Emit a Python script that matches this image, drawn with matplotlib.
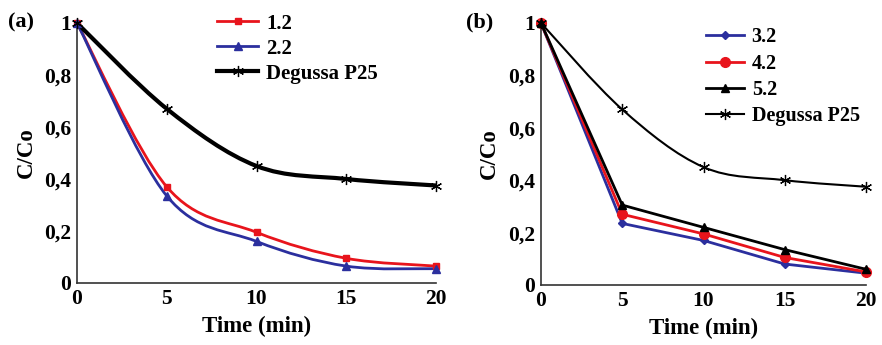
import numpy as np
import matplotlib
matplotlib.use("Agg")
import matplotlib.pyplot as plt
from matplotlib.path import Path
from matplotlib.patches import PathPatch
from matplotlib.lines import Line2D

time = [0, 5, 10, 15, 20]
a_12 = [1.0, 0.37, 0.195, 0.095, 0.065]
a_22 = [1.0, 0.335, 0.16, 0.065, 0.055]
p25 = [1.0, 0.67, 0.45, 0.40, 0.375]
b_32 = [1.0, 0.235, 0.17, 0.08, 0.045]
b_42 = [1.0, 0.27, 0.195, 0.105, 0.05]
b_52 = [1.0, 0.305, 0.22, 0.135, 0.06]
yticks = [0, 0.2, 0.4, 0.6, 0.8, 1]
ytick_labels = ["0", "0,2", "0,4", "0,6", "0,8", "1"]
xticks = [0, 5, 10, 15, 20]

plt.rcParams['font.family'] = ['Liberation Serif', 'DejaVu Serif']
plt.rcParams['font.weight'] = 'bold'

fig = plt.figure(figsize=(8.82, 3.45), dpi=100)
axa = fig.add_axes([77/882, 1-283/345, (436-77)/882, (283-23)/345])
axb = fig.add_axes([541/882, 1-285/345, (866-541)/882, (285-23)/345])


def smooth_path(ax, x, y, color, lw):
    # Excel-style smoothed line through the data points (Catmull-Rom -> cubic Bezier)
    x = np.asarray(x, float); y = np.asarray(y, float)
    n = len(x)
    verts = [(x[0], y[0])]
    codes = [Path.MOVETO]
    t = 1/6
    for i in range(n-1):
        x0, y0 = (x[i-1], y[i-1]) if i > 0 else (x[i], y[i])
        x3, y3 = (x[i+2], y[i+2]) if i+2 < n else (x[i+1], y[i+1])
        c1 = (x[i] + (x[i+1]-x0)*t, y[i] + (y[i+1]-y0)*t)
        c2 = (x[i+1] - (x3-x[i])*t, y[i+1] - (y3-y[i])*t)
        verts += [c1, c2, (x[i+1], y[i+1])]
        codes += [Path.CURVE4]*3
    ax.add_patch(PathPatch(Path(verts, codes), facecolor='none', edgecolor=color,
                           lw=lw, zorder=3, capstyle='round', joinstyle='round'))


star = (6, 2, 0)
red = '#e8141c'
blue = '#2b2f9e'

# Panel (a)
smooth_path(axa, time, a_12, red, 2.0)
smooth_path(axa, time, a_22, blue, 2.0)
smooth_path(axa, time, p25, 'black', 3.0)
axa.plot(time, a_12, ls='none', marker='s', ms=5, color=red, zorder=4, clip_on=False)
axa.plot(time, a_22, ls='none', marker='^', ms=6, color=blue, zorder=4, clip_on=False)
axa.plot(time, p25, ls='none', marker=star, ms=8, mew=0.9, color='black', zorder=4, clip_on=False)
ha = [Line2D([], [], color=red, lw=2, marker='s', ms=5),
      Line2D([], [], color=blue, lw=2, marker='^', ms=6),
      Line2D([], [], color='black', lw=3, marker=star, ms=8, mew=0.9)]
axa.legend(ha, ['1.2', '2.2', 'Degussa P25'], loc='upper left', bbox_to_anchor=(0.368, 1.068),
           frameon=False, fontsize=15, handlelength=1.95, handletextpad=0.4,
           labelspacing=0.24, borderaxespad=0)

# Panel (b)
smooth_path(axb, time, p25, 'black', 1.5)
axb.plot(time, b_32, color=blue, lw=2, marker='D', ms=4, zorder=3, clip_on=False)
axb.plot(time, b_42, color=red, lw=2, marker='o', ms=7, zorder=3, clip_on=False)
axb.plot(time, b_52, color='black', lw=2, marker='^', ms=6, zorder=3, clip_on=False)
axb.plot(time, p25, ls='none', marker=star, ms=8, mew=0.9, color='black', zorder=4, clip_on=False)
hb = [Line2D([], [], color=blue, lw=2, marker='D', ms=4),
      Line2D([], [], color=red, lw=2, marker='o', ms=7),
      Line2D([], [], color='black', lw=2, marker='^', ms=6),
      Line2D([], [], color='black', lw=1.5, marker=star, ms=8, mew=0.9)]
axb.legend(hb, ['3.2', '4.2', '5.2', 'Degussa P25'], loc='upper left', bbox_to_anchor=(0.484, 1.015),
           frameon=False, fontsize=14.5, handlelength=1.85, handletextpad=0.4,
           labelspacing=0.32, borderaxespad=0)

for ax, tag in ((axa, '(a)'), (axb, '(b)')):
    ax.set_xlim(0, 20)
    ax.set_ylim(0, 1)
    ax.set_xticks(xticks)
    ax.set_xticklabels([str(v) for v in xticks])
    ax.set_yticks(yticks)
    ax.set_yticklabels(ytick_labels)
    ax.tick_params(length=0, labelsize=15.5, pad=4)
    for s in ('top', 'right'):
        ax.spines[s].set_visible(False)
    for s in ('left', 'bottom'):
        ax.spines[s].set_color('#333333')
        ax.spines[s].set_linewidth(1.2)
    ax.set_xlabel('Time (min)', fontsize=16.5, fontweight='bold', labelpad=5)
axa.set_ylabel('C/Co', fontsize=16.5, fontweight='bold', labelpad=5)
axb.set_ylabel('C/Co', fontsize=16.5, fontweight='bold', labelpad=6)

fig.text(8/882, 1-22/345, '(a)', fontsize=16, fontweight='bold', va='center', ha='left')
fig.text(466/882, 1-22/345, '(b)', fontsize=16, fontweight='bold', va='center', ha='left')

fig.savefig('out.png', dpi=100)
